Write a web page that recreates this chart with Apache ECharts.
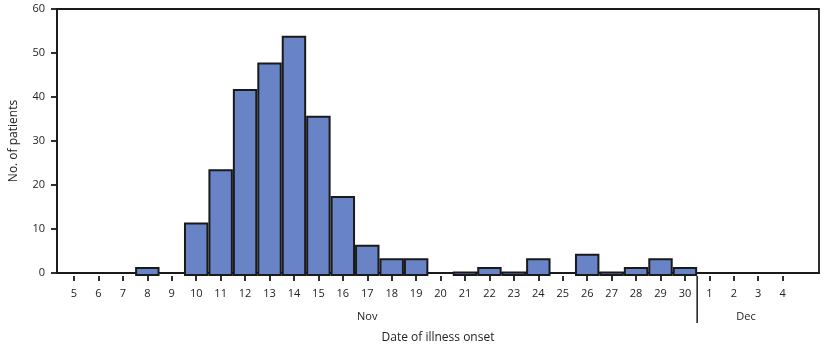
<!DOCTYPE html>
<html><head><meta charset="utf-8">
<script src="https://cdn.jsdelivr.net/npm/echarts@6/dist/echarts.min.js"></script>
<style>html,body{margin:0;padding:0;background:#fff}#c{width:825px;height:349px}</style>
</head><body><div id="c"></div>
<script>
const dayLabels = ['5','6','7','8','9','10','11','12','13','14','15','16','17','18','19','20','21','22','23','24','25','26','27','28','29','30','1','2','3','4'];
const monthOfDay = ['Nov','Nov','Nov','Nov','Nov','Nov','Nov','Nov','Nov','Nov','Nov','Nov','Nov','Nov','Nov','Nov','Nov','Nov','Nov','Nov','Nov','Nov','Nov','Nov','Nov','Nov','Dec','Dec','Dec','Dec'];
const patients = [0,0,0,2,0,12,24,42,48,54,36,18,7,4,4,0,1,2,1,4,0,5,1,2,4,2,0,0,0,0];
const yTicks = [0,10,20,30,40,50,60];
const categories = dayLabels.map((d,i)=>monthOfDay[i]+' '+d);

const FONT = 'Open Sans';
const TXT = '#222';
const chart = echarts.init(document.getElementById('c'), null, {renderer:'canvas'});
chart.setOption({
  animation:false,
  grid:[
    {left:46, right:6, top:9, bottom:73, show:true, borderColor:'#1a1a1a', borderWidth:1.8, backgroundColor:'transparent'},
    {left:61.8, width:733.1, top:9, bottom:73}
  ],
  xAxis:[
    {gridIndex:0, type:'value', min:0, max:1, axisLine:{show:true,lineStyle:{color:'#1a1a1a',width:1.8}},
     axisTick:{show:false}, axisLabel:{show:false}, splitLine:{show:false},
     name:'Date of illness onset', nameLocation:'middle', nameGap:59,
     nameTextStyle:{fontFamily:FONT,fontSize:12,color:TXT}},
    {gridIndex:1, type:'category', data:categories, boundaryGap:true,
     axisLine:{show:false}, axisTick:{show:true,alignWithLabel:true,length:5,lineStyle:{color:'#1a1a1a',width:1.8}},
     axisLabel:{interval:0, margin:12, fontFamily:FONT, fontSize:11, color:TXT, formatter:(v)=>v.split(' ')[1]}}
  ],
  yAxis:[
    {gridIndex:0, type:'value', min:yTicks[0], max:yTicks[yTicks.length-1], interval:10,
     axisLine:{show:true,lineStyle:{color:'#1a1a1a',width:1.8}},
     axisTick:{show:true,length:6,lineStyle:{color:'#1a1a1a',width:1.8}},
     axisLabel:{fontFamily:FONT,fontSize:11,color:TXT,margin:12},
     splitLine:{show:false},
     name:'No. of patients', nameLocation:'middle', nameGap:37, nameRotate:90,
     nameTextStyle:{fontFamily:FONT,fontSize:12,color:TXT}},
    {gridIndex:1, type:'value', min:yTicks[0], max:yTicks[yTicks.length-1], show:false}
  ],
  series:[{
    type:'bar', xAxisIndex:1, yAxisIndex:1,
    data:patients.map(v=>v===0?{value:0,itemStyle:{borderWidth:0}}:v),
    barWidth:'100%', barCategoryGap:'0%',
    itemStyle:{color:'#6883c6', borderColor:'#1a1a1a', borderWidth:2}
  }]
});

// month annotations & separator derived from axis positions
const px = (cat)=>chart.convertToPixel({xAxisIndex:1}, cat);
const lastNov = monthOfDay.lastIndexOf('Nov');
const sepX = (px(categories[lastNov]) + px(categories[lastNov+1]))/2;
const decIdx = monthOfDay.map((m,i)=>m==='Dec'?i:-1).filter(i=>i>=0);
const novX = px(categories[12]);
const decX = (px(categories[decIdx[0]]) + px(categories[decIdx[decIdx.length-1]]))/2;
const y0 = chart.convertToPixel({yAxisIndex:1}, 0);
chart.setOption({graphic:[
  {type:'line', shape:{x1:sepX,y1:y0,x2:sepX,y2:y0+47}, style:{stroke:'#1a1a1a',lineWidth:1.5}},
  {type:'text', x:novX, y:y0+41, style:{text:'Nov', font:'11px '+FONT, fill:TXT, textAlign:'center', textVerticalAlign:'middle'}},
  {type:'text', x:decX, y:y0+41, style:{text:'Dec', font:'11px '+FONT, fill:TXT, textAlign:'center', textVerticalAlign:'middle'}}
]});
</script></body></html>
